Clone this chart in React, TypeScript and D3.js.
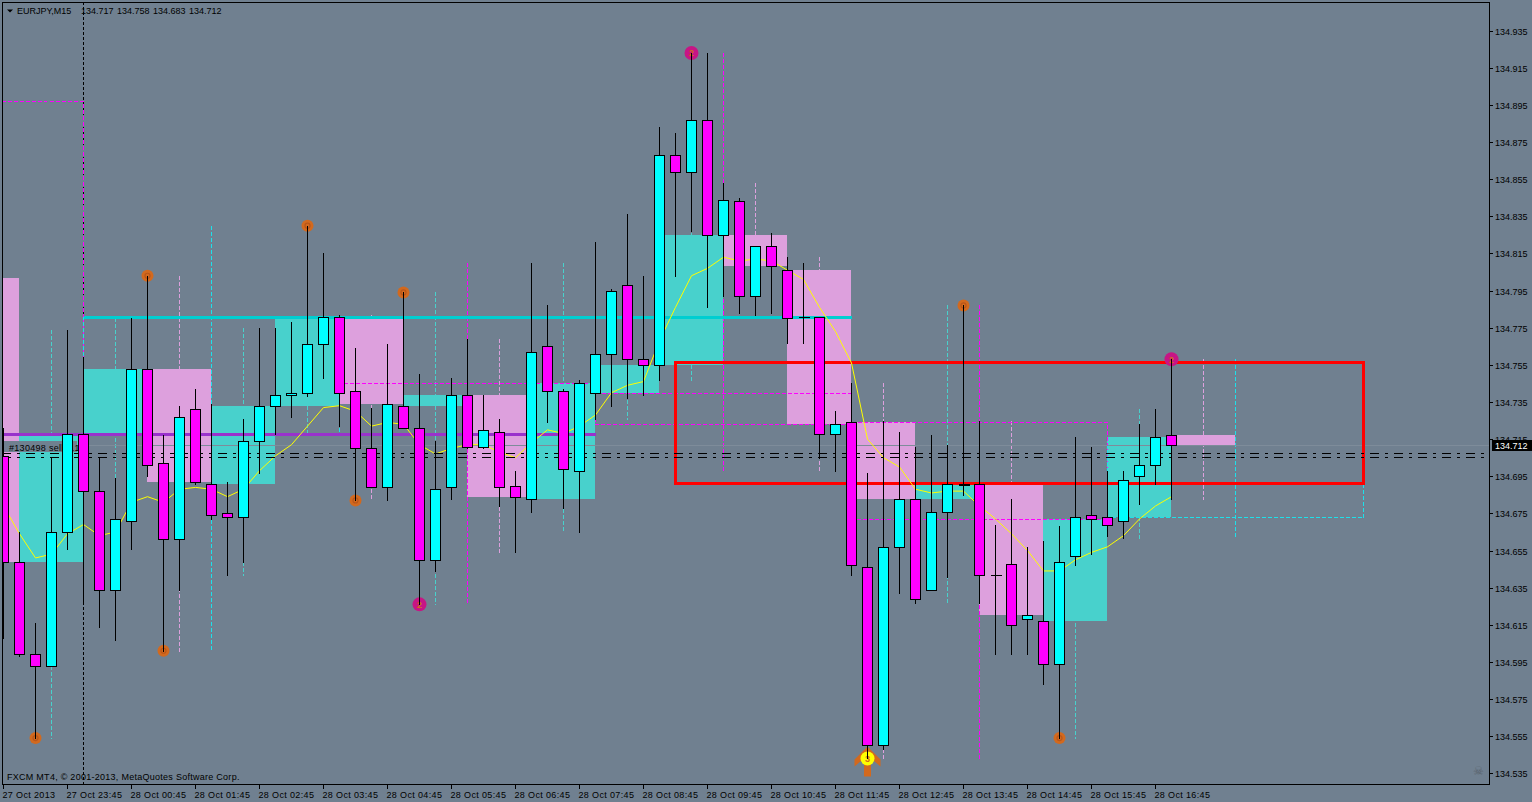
import React, { useEffect } from 'react';
import * as d3 from 'd3';

// ---------- data ----------
const symbolName = 'EURJPY,M15';
const startTimeUTC = Date.UTC(2013, 9, 27, 22, 45); // first visible bar
const barMinutes = 15;

const opens = [
  134.706, 134.649, 134.599, 134.593, 134.665, 134.718, 134.687, 134.634, 134.671, 134.753,
  134.702, 134.661, 134.731, 134.691, 134.675, 134.673, 134.714, 134.733, 134.739, 134.740,
  134.766, 134.781, 134.741, 134.710, 134.689, 134.733, 134.721, 134.650, 134.689, 134.739,
  134.711, 134.719, 134.690, 134.683, 134.765, 134.741, 134.698, 134.740, 134.761, 134.798,
  134.758, 134.755, 134.868, 134.859, 134.887, 134.825, 134.843, 134.792, 134.819, 134.806,
  134.781, 134.781, 134.718, 134.724, 134.646, 134.550, 134.657, 134.683, 134.634, 134.676,
  134.691, 134.691, 134.642, 134.648, 134.618, 134.617, 134.594, 134.652, 134.674, 134.673,
  134.671, 134.695, 134.701, 134.717,
];
const highs = [
  134.721, 134.665, 134.616, 134.705, 134.774, 134.759, 134.705, 134.694, 134.780, 134.803,
  134.717, 134.733, 134.742, 134.734, 134.692, 134.726, 134.775, 134.775, 134.778, 134.830,
  134.815, 134.782, 134.764, 134.732, 134.766, 134.794, 134.750, 134.714, 134.748, 134.769,
  134.739, 134.726, 134.698, 134.810, 134.787, 134.742, 134.747, 134.821, 134.796, 134.836,
  134.803, 134.883, 134.880, 134.923, 134.923, 134.853, 134.845, 134.819, 134.826, 134.813,
  134.810, 134.781, 134.730, 134.745, 134.697, 134.725, 134.719, 134.711, 134.717, 134.712,
  134.787, 134.725, 134.669, 134.683, 134.657, 134.660, 134.668, 134.716, 134.711, 134.698,
  134.698, 134.723, 134.731, 134.758,
];
const lows = [
  134.608, 134.598, 134.554, 134.593, 134.656, 134.626, 134.614, 134.607, 134.656, 134.695,
  134.601, 134.634, 134.691, 134.672, 134.642, 134.649, 134.697, 134.718, 134.727, 134.738,
  134.748, 134.722, 134.682, 134.689, 134.682, 134.721, 134.626, 134.644, 134.683, 134.710,
  134.710, 134.679, 134.654, 134.676, 134.724, 134.678, 134.665, 134.726, 134.733, 134.737,
  134.739, 134.747, 134.803, 134.827, 134.786, 134.792, 134.783, 134.782, 134.783, 134.767,
  134.767, 134.705, 134.698, 134.642, 134.543, 134.548, 134.632, 134.627, 134.634, 134.641,
  134.685, 134.627, 134.599, 134.599, 134.599, 134.583, 134.554, 134.647, 134.653, 134.663,
  134.662, 134.680, 134.691, 134.683,
];
const closes = [
  134.649, 134.599, 134.593, 134.665, 134.718, 134.687, 134.634, 134.672, 134.753, 134.701,
  134.661, 134.727, 134.692, 134.674, 134.673, 134.714, 134.733, 134.739, 134.740, 134.766,
  134.781, 134.740, 134.710, 134.689, 134.734, 134.721, 134.650, 134.688, 134.739, 134.711,
  134.720, 134.689, 134.684, 134.762, 134.741, 134.699, 134.745, 134.761, 134.795, 134.758,
  134.755, 134.868, 134.859, 134.887, 134.825, 134.844, 134.792, 134.819, 134.808, 134.780,
  134.781, 134.718, 134.723, 134.647, 134.550, 134.657, 134.683, 134.629, 134.676, 134.691,
  134.691, 134.642, 134.642, 134.615, 134.620, 134.594, 134.649, 134.673, 134.672, 134.669,
  134.693, 134.701, 134.716, 134.712,
];
const maValues = [
  134.679, 134.664, 134.651, 134.653, 134.664, 134.669, 134.663, 134.665, 134.681, 134.684,
  134.681, 134.688, 134.689, 134.688, 134.684, 134.688, 134.698, 134.706, 134.712, 134.722,
  134.732, 134.733, 134.730, 134.722, 134.724, 134.723, 134.712, 134.707, 134.710, 134.712,
  134.712, 134.708, 134.705, 134.713, 134.720, 134.718, 134.722, 134.728, 134.740, 134.744,
  134.746, 134.768, 134.786, 134.803, 134.807, 134.813, 134.811, 134.812, 134.811, 134.806,
  134.801, 134.786, 134.773, 134.756, 134.715, 134.705, 134.700, 134.688, 134.686, 134.687,
  134.687, 134.679, 134.672, 134.664, 134.655, 134.644, 134.644, 134.650, 134.654, 134.657,
  134.663, 134.672, 134.679, 134.684,
];
// opens of the higher-timeframe bars that began before the first visible bar
const prevHourOpen = 134.802;
const prevH4Open = 134.897;

const yTickValues = [
  134.935, 134.915, 134.895, 134.875, 134.855, 134.835, 134.815, 134.795, 134.775, 134.755,
  134.735, 134.715, 134.695, 134.675, 134.655, 134.635, 134.615, 134.595, 134.575, 134.555, 134.535,
];
const xTickIndex = [0, 4, 8, 12, 16, 20, 24, 28, 32, 36, 40, 44, 48, 52, 56, 60, 64, 68, 72];
const xTickLabels = [
  '27 Oct 2013', '27 Oct 23:45', '28 Oct 00:45', '28 Oct 01:45', '28 Oct 02:45', '28 Oct 03:45',
  '28 Oct 04:45', '28 Oct 05:45', '28 Oct 06:45', '28 Oct 07:45', '28 Oct 08:45', '28 Oct 09:45',
  '28 Oct 10:45', '28 Oct 11:45', '28 Oct 12:45', '28 Oct 13:45', '28 Oct 14:45', '28 Oct 15:45',
  '28 Oct 16:45',
];

// signal markers: bar index + price
const orangeSignalIdx = [2, 9, 10, 19, 22, 25, 60, 66];
const orangeSignalPrice = [134.554, 134.803, 134.601, 134.830, 134.682, 134.794, 134.787, 134.554];
const pinkSignalIdx = [26, 43, 73];
const pinkSignalPrice = [134.626, 134.923, 134.758];
const yellowSignalIdx = [54];
const yellowSignalPrice = [134.543];

// horizontal levels (price, from bar, to bar)
const purpleLevel = { price: 134.718, from: -2, to: 37 };
const cyanLevel = { price: 134.781, from: 5, to: 53 };
// rectangle object
const redZone = { from: 42, to: 85, top: 134.7565, bottom: 134.6913 };
// order
const orderTicket = '#130498';
const orderType = 'sell';
const orderLots = '0.10';
const orderLinePrices = [134.7075, 134.7054];

// ---------- layout ----------
const W = 1532;
const H = 802;
const plotL = 2;
const plotT = 2;
const plotR = 1489;
const plotB = 784;
const FONT = "'Liberation Sans', Arial, sans-serif";

const xScale = d3.scaleLinear().domain([0, 1]).range([3.5, 19.5]);
const yScale = d3.scaleLinear().domain([134.535, 134.935]).range([773.3, 30.7]);
const Yr = (p: number) => Math.round(yScale(p));

type Bar = { i: number; t: number; o: number; h: number; l: number; c: number };
const bars: Bar[] = opens.map((o, i) => ({
  i,
  t: startTimeUTC + i * barMinutes * 60000,
  o,
  h: highs[i],
  l: lows[i],
  c: closes[i],
}));

function groupBars(periodMin: number, prevOpen: number) {
  const per = periodMin * 60000;
  const n = periodMin / barMinutes;
  return d3.groups(bars, (b) => Math.floor(b.t / per)).map(([key, bs]) => {
    const first = bs[0];
    const last = bs[bs.length - 1];
    const offset = (first.t - key * per) / (barMinutes * 60000);
    const start = first.i - offset;
    return {
      start,
      end: start + n,
      mid: start + n / 2,
      open: offset > 0 ? prevOpen : first.o,
      close: last.c,
      high: d3.max(bs, (b) => b.h) as number,
      low: d3.min(bs, (b) => b.l) as number,
      partial: offset > 0,
    };
  });
}

const h1 = groupBars(60, prevHourOpen);
const h4 = groupBars(240, prevH4Open);
const daySepIdx = bars
  .filter((b) => new Date(b.t).getUTCHours() === 0 && new Date(b.t).getUTCMinutes() === 0)
  .map((b) => b.i);

const BG = '#708090';

export default function App() {
  useEffect(() => {
    document.body.style.margin = '0';
    document.body.style.overflow = 'hidden';
  }, []);

  const maLine = d3
    .line<number>()
    .x((_, i) => xScale(i))
    .y((d) => yScale(d))(maValues) as string;

  const last = bars[bars.length - 1];
  const bid = last.c;

  return (
    <svg width={W} height={H} style={{ position: 'absolute', left: 0, top: 0, display: 'block' }} fontFamily={FONT}>
      <defs>
        <clipPath id="plot">
          <rect x={plotL + 1} y={plotT + 1} width={plotR - plotL - 1} height={plotB - plotT - 1} />
        </clipPath>
      </defs>
      <rect x={0} y={0} width={W} height={H} fill={BG} />

      <text x={7} y={780} fontSize={9} fill="#000" letterSpacing={0.27}>
        FXCM MT4, © 2001-2013, MetaQuotes Software Corp.
      </text>

      <g clipPath="url(#plot)" shapeRendering="crispEdges">
        {/* day separators */}
        {daySepIdx.map((i) => (
          <line key={'ds' + i} x1={xScale(i)} x2={xScale(i)} y1={plotT} y2={plotB} stroke="#000" strokeDasharray="3,2" />
        ))}

        {/* H1 wicks */}
        {h1.map((g, k) => (
          <line
            key={'h1w' + k}
            x1={xScale(g.mid)}
            x2={xScale(g.mid)}
            y1={Yr(g.high)}
            y2={Yr(g.low) + 1}
            stroke={g.close >= g.open ? '#48D1CC' : '#DDA0DD'}
            strokeDasharray="4,2"
          />
        ))}
        {/* H1 bodies */}
        {h1.map((g, k) => {
          const top = Yr(Math.max(g.open, g.close));
          const bot = Yr(Math.min(g.open, g.close));
          return (
            <rect
              key={'h1b' + k}
              x={xScale(g.start) - 0.5}
              y={top}
              width={xScale(g.end) - xScale(g.start)}
              height={Math.max(1, bot - top)}
              fill={g.close >= g.open ? '#48D1CC' : '#DDA0DD'}
            />
          );
        })}

        {/* H4 outlines and wicks */}
        {h4.map((g, k) => {
          const col = g.close >= g.open ? '#1EE0EA' : '#FF00FF';
          const top = Yr(Math.max(g.open, g.close)) + 0.5;
          const bot = Yr(Math.min(g.open, g.close)) + 0.5;
          return (
            <g key={'h4' + k} fill="none" stroke={col} strokeDasharray="4,2">
              <rect x={xScale(g.start)} y={top} width={xScale(g.end) - xScale(g.start)} height={bot - top} />
              <line x1={xScale(g.mid)} x2={xScale(g.mid)} y1={Yr(g.high)} y2={Yr(g.low) + 1} />
            </g>
          );
        })}

        {/* levels */}
        <line
          x1={xScale(purpleLevel.from)}
          x2={xScale(purpleLevel.to)}
          y1={Yr(purpleLevel.price) + 0.5}
          y2={Yr(purpleLevel.price) + 0.5}
          stroke="#9932CC"
          strokeWidth={3}
        />
        <line
          x1={xScale(cyanLevel.from)}
          x2={xScale(cyanLevel.to)}
          y1={Yr(cyanLevel.price) + 0.5}
          y2={Yr(cyanLevel.price) + 0.5}
          stroke="#00CED1"
          strokeWidth={3}
        />

        {/* bid line */}
        <line x1={plotL} x2={plotR} y1={Yr(bid) + 0.5} y2={Yr(bid) + 0.5} stroke="#7E8C9A" />

        {/* red rectangle */}
        <rect
          x={xScale(redZone.from)}
          y={Yr(redZone.top) + 0.5}
          width={xScale(redZone.to) - xScale(redZone.from)}
          height={Yr(redZone.bottom) - Yr(redZone.top)}
          fill="none"
          stroke="#FF0000"
          strokeWidth={3}
        />

        {/* moving average */}
        <path d={maLine} fill="none" stroke="#FFFF00" strokeWidth={1} shapeRendering="auto" />

        {/* order lines */}
        {orderLinePrices.map((p, k) => (
          <line
            key={'ol' + k}
            x1={plotL}
            x2={plotR - 4}
            y1={Yr(p) + 0.5}
            y2={Yr(p) + 0.5}
            stroke="#000"
            strokeDasharray="9,6,3,6"
          />
        ))}
        <rect x={3} y={441} width={74} height={11} fill={BG} />
        <text x={9} y={450.5} fontSize={9} fill="#000" letterSpacing={0.3} shapeRendering="auto">
          {`${orderTicket} ${orderType} ${orderLots}`}
        </text>

        {/* signals */}
        <g shapeRendering="auto">
          {yellowSignalIdx.map((i, k) => {
            const cx = xScale(i);
            const cy = yScale(yellowSignalPrice[k]);
            const pts = [
              [0, -12], [13, 1], [13, 8], [3.5, 0], [3.5, 18], [-3.5, 18], [-3.5, 0], [-13, 8], [-13, 1],
            ]
              .map(([dx, dy]) => `${cx + dx},${cy + dy}`)
              .join(' ');
            return (
              <g key={'ys' + k}>
                <polygon points={pts} fill="#D2691E" />
                <circle cx={cx} cy={cy} r={7} fill="#FFFF00" />
                <text x={cx} y={cy + 3.5} fontSize={9} fontWeight="bold" fill="#D2691E" textAnchor="middle">3</text>
              </g>
            );
          })}
          {orangeSignalIdx.map((i, k) => {
            const cx = xScale(i);
            const cy = yScale(orangeSignalPrice[k]);
            return (
              <g key={'os' + k}>
                <circle cx={cx} cy={cy} r={6} fill="#D2691E" />
                <circle cx={cx} cy={cy} r={2.5} fill="none" stroke="#B8561A" strokeWidth={1.2} />
              </g>
            );
          })}
          {pinkSignalIdx.map((i, k) => {
            const cx = xScale(i);
            const cy = yScale(pinkSignalPrice[k]);
            return (
              <g key={'ps' + k}>
                <circle cx={cx} cy={cy} r={7} fill="#C71585" />
                <text x={cx} y={cy + 3.5} fontSize={9} fontWeight="bold" fill="#D2691E" textAnchor="middle">2</text>
              </g>
            );
          })}
        </g>

        {/* candles */}
        {bars.map((b) => {
          const x = xScale(b.i);
          const top = Yr(Math.max(b.o, b.c));
          const bot = Yr(Math.min(b.o, b.c));
          const fill = b.c > b.o ? '#00FFFF' : '#FF00FF';
          return (
            <g key={'c' + b.i}>
              <line x1={x} x2={x} y1={Yr(b.h)} y2={Yr(b.l) + 1} stroke="#000" />
              {bot > top ? (
                <rect x={x - 5} y={top + 0.5} width={10} height={bot - top} fill={fill} stroke="#000" />
              ) : (
                <line
                  x1={x - 5}
                  x2={x + 6}
                  y1={top + 0.5}
                  y2={top + 0.5}
                  stroke="#000"
                  strokeWidth={b.i === 60 ? 2 : 1}
                />
              )}
            </g>
          );
        })}
      </g>

      {/* frame */}
      <rect
        x={plotL + 0.5}
        y={plotT + 0.5}
        width={plotR - plotL}
        height={plotB - plotT}
        fill="none"
        stroke="#000"
        shapeRendering="crispEdges"
      />

      {/* price axis */}
      {yTickValues.map((v) => {
        const y = Yr(v) + 0.5;
        return (
          <g key={'yt' + v}>
            <line x1={plotR + 1} x2={plotR + 4} y1={y} y2={y} stroke="#000" shapeRendering="crispEdges" />
            <text x={1495} y={y + 3} fontSize={9} fill="#000">{v.toFixed(3)}</text>
          </g>
        );
      })}
      <rect x={1492} y={Yr(bid) - 5} width={40} height={11} fill="#000" />
      <text x={1495} y={Yr(bid) + 3.5} fontSize={9} fill="#fff">{bid.toFixed(3)}</text>

      {/* time axis */}
      {xTickIndex.map((i, k) => (
        <g key={'xt' + i}>
          <line x1={xScale(i)} x2={xScale(i)} y1={plotB + 1} y2={plotB + 5} stroke="#000" shapeRendering="crispEdges" />
          <text x={xScale(i) - 1} y={797.5} fontSize={9} fill="#000" letterSpacing={0.35}>
            {xTickLabels[k]}
          </text>
        </g>
      ))}

      {/* header */}
      <polygon points="7,9.5 13,9.5 10,12.5" fill="#000" />
      <text x={17} y={14} fontSize={9} fill="#000">{symbolName}</text>
      {[last.o, last.h, last.l, last.c].map((v, k) => (
        <text key={'hd' + k} x={81 + k * 36} y={14} fontSize={9} fill="#000">{v.toFixed(3)}</text>
      ))}

      {/* expert status icon */}
      <text x={1478} y={775} fontSize={12} fill="#59636e" textAnchor="middle">☠</text>
    </svg>
  );
}
